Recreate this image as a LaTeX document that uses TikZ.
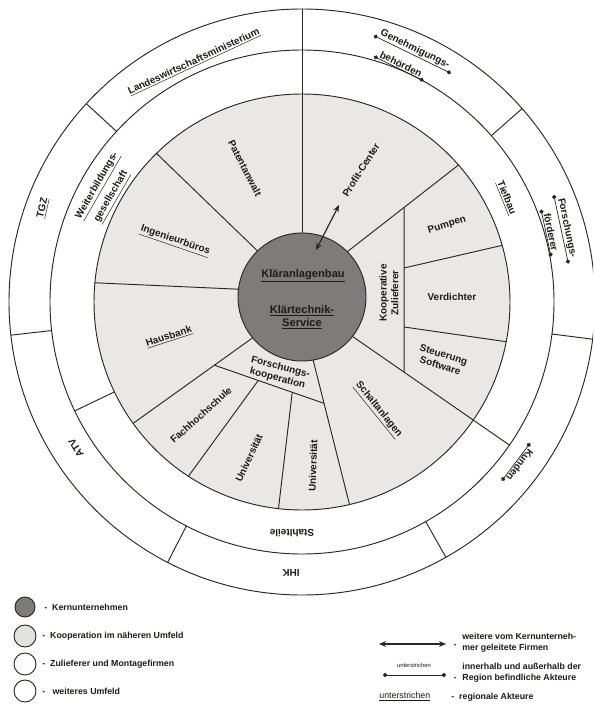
\documentclass[tikz,border=0pt]{standalone}
\usepackage{fontspec}
\setmainfont{Liberation Sans}
\usetikzlibrary{arrows.meta,calc}
\definecolor{linec}{HTML}{2B2620}
\definecolor{txtc}{HTML}{1E1B18}
\definecolor{darkg}{HTML}{7E7C7A}
\definecolor{lightg}{HTML}{E9E8E4}
\definecolor{legl}{HTML}{E2E2E0}
\tikzset{
  ln/.style={line width=0.8pt, draw=linec},
  lab/.style={font=\bfseries\fontsize{8.5}{10}\selectfont, text=txtc, inner sep=1pt, align=center},
  cen/.style={font=\bfseries\fontsize{9.5}{11}\selectfont, text=txtc, inner sep=1pt, align=center},
  leg/.style={font=\bfseries\fontsize{7.5}{9}\selectfont, text=txtc, inner sep=1pt},
  dotul/.style={line width=0.6pt, draw=linec, {Circle[length=3.6pt]}-{Circle[length=3.6pt]}, shorten <=-3pt, shorten >=-3pt},
  dbl/.style={line width=1pt, draw=linec, {Stealth[length=6pt,width=5pt]}-{Stealth[length=6pt,width=5pt]}},
}
\begin{document}
\begin{tikzpicture}[x=0.03cm,y=0.03cm]
\useasboundingbox (0,0) rectangle (593,-707);
\fill[white] (0,0) rectangle (593,-707);
\begin{scope}
\clip (0,0) rectangle (593,-707);
\coordinate (C) at (302,-302);
\coordinate (D) at (302,-297);
% rings
\draw[ln, fill=white] (C) circle (293);
\draw[ln] (C) circle (252);
\draw[ln, fill=lightg] (C) circle (208);
% spokes of the inner ring
\coordinate (s2a) at ($(D)+(134:64)$);   \coordinate (s2b) at ($(C)+(134.4:208)$);
\coordinate (s3a) at ($(D)+(173:64)$);   \coordinate (s3b) at ($(C)+(174.7:208)$);
\coordinate (s4a) at ($(D)+(219.6:64)$); \coordinate (s4b) at ($(C)+(215.7:208)$);
\coordinate (s6a) at ($(D)+(-80:64)$);   \coordinate (s6b) at ($(C)+(-76.8:208)$);
\coordinate (s7a) at ($(D)+(-38:64)$);   \coordinate (s7b) at ($(C)+(-34.6:252)$);
\coordinate (s8a) at ($(D)+(45:64)$);    \coordinate (s8b) at ($(C)+(41.2:208)$);
\coordinate (ch1) at ($(s4a)!0.32!(s4b)$);
\coordinate (ch2) at ($(s6a)!0.30!(s6b)$);
\coordinate (v1) at (404,0);
\coordinate (v2) at (404,-700);
\coordinate (kt) at (intersection of v1--v2 and s8a--s8b);
\coordinate (kb) at (intersection of v1--v2 and s7a--s7b);
\draw[ln] ($(D)+(90:64)$) -- ($(C)+(90:293)$);
\draw[ln] (s2a) -- (s2b);
\draw[ln] (s3a) -- (s3b);
\draw[ln] (s4a) -- (s4b);
\draw[ln] (s6a) -- (s6b);
\draw[ln] (s7a) -- (s7b);
\draw[ln] (s8a) -- (s8b);
\draw[ln] (ch1) -- (ch2);
\draw[ln] ($(ch1)!0.40!(ch2)$) -- ($(C)+(236.9:208)$);
\draw[ln] ($(ch1)!0.71!(ch2)$) -- ($(C)+(263.5:208)$);
\draw[ln] (kt) -- (kb);
\draw[ln] (404,-268) -- ($(C)+(15.8:208)$);
\draw[ln] (404,-327) -- ($(C)+(-11:208)$);
% middle ring separator
\draw[ln] ($(C)+(205.6:208)$) -- ($(C)+(205.6:252)$);
% outer ring separators
\foreach \a in {41.3,137.4,186.5,242.7,299.4,352.7}
  \draw[ln] ($(C)+(\a:252)$) -- ($(C)+(\a:293)$);
% core
\draw[ln, fill=darkg] (D) circle (64);
\end{scope}

% centre texts
\node[cen] (kb1) at (303,-276) {\underline{Kläranlagenbau}};
\node[cen] (kb2) at (302,-317) {\underline{Klärtechnik-}\\\underline{Service}};

% inner ring labels
\node[lab, rotate=-63] (pat) at (245,-168) {Patentanwalt};
\node[lab, rotate=58] (pc) at (361,-170) {Profit-Center};
\node[lab, rotate=-19] (ing) at (175,-241) {\underline{Ingenieurbüros}};
\node[lab, rotate=18] (hb) at (169,-337) {\underline{Hausbank}};
\node[lab, rotate=42] (fh) at (201,-415) {Fachhochschule};
\node[lab, rotate=65] (u1) at (249,-458) {Universität};
\node[lab, rotate=88] (u2) at (313,-466) {Universität};
\node[lab, rotate=-15] (fk) at (279,-373) {Forschungs-\\kooperation};
\node[lab, rotate=-51] (sa) at (378,-410) {\underline{Schaltanlagen}};
\node[lab, rotate=-17] (st) at (442,-360) {Steuerung\\Software};
\node[lab] (vd) at (452,-297) {Verdichter};
\node[lab, rotate=17] (pu) at (447,-225) {Pumpen};
\node[lab, rotate=90] (kz) at (389,-293) {Kooperative\\Zulieferer};

% arrow core -> profit centre
\coordinate (arA) at (316,-250);
\coordinate (arB) at (339,-205);
\draw[dbl] (arA) -- (arB);

% middle ring labels
\node[lab, rotate=60] (wb1) at (98,-186) {\underline{Weiterbildungs-}};
\node[lab, rotate=60] (wb2) at (112,-197) {\underline{gesellschaft}};
\node[lab, rotate=-68] (tb) at (506,-198) {\underline{Tiefbau}};
\node[lab, rotate=180] (sl) at (292,-533) {Stahlteile};

% outer ring labels
\node[lab, rotate=25] (lwm) at (194,-62) {\underline{Landeswirtschaftsministerium}};
\node[lab, rotate=-26] (gb1) at (415,-49) {Genehmigungs-};
\node[lab, rotate=-26] (gb2) at (401,-64) {behörden};
\draw[dotul] (gb1.south west) -- (gb1.south east);
\draw[dotul] (gb2.south west) -- (gb2.south east);
\node[lab, rotate=-78] (ff1) at (567,-228) {Forschungs-};
\node[lab, rotate=-78] (ff2) at (551,-232) {förderer};
\draw[dotul] (ff1.south west) -- (ff1.south east);
\draw[dotul] (ff2.south west) -- (ff2.south east);
\node[lab, rotate=-127] (ku) at (520,-465) {Kunden};
\draw[dotul] (ku.south west) -- (ku.south east);
\node[lab, rotate=77] (tgz) at (43,-208) {\underline{TGZ}};
\node[lab, rotate=123] (atv) at (76,-448) {ATV};
\node[lab, rotate=180] (ihk) at (291,-573) {IHK};

% legend left
\draw[ln, fill=darkg] (25,-607) circle (10);
\draw[ln, fill=legl] (25,-636) circle (11);
\draw[ln, fill=white] (25,-664) circle (11);
\draw[ln, fill=white] (25,-691) circle (11);
\node[leg, anchor=west] (le1) at (43,-607) {-\ \ Kernunternehmen};
\node[leg, anchor=west] (le2) at (41,-636) {-\ \ Kooperation im näheren Umfeld};
\node[leg, anchor=west] (le3) at (41,-664) {-\ \ Zulieferer und Montagefirmen};
\node[leg, anchor=west] (le4) at (41,-691) {-\ \ \ weiteres Umfeld};

% legend right
\coordinate (la1) at (379,-644);
\coordinate (la2) at (446,-644);
\draw[dbl] (la1) -- (la2);
\node[leg] (ld1) at (455,-646) {-};
\node[leg, anchor=west, align=left] (lr1) at (461,-643) {weitere vom Kernunterneh-\\mer geleitete Firmen};
\node[font=\fontsize{5}{6}\selectfont, text=txtc, inner sep=1pt] (lu) at (414,-665) {unterstrichen};
\coordinate (lu1) at (383,-675);
\coordinate (lu2) at (446,-675);
\draw[dotul, shorten <=0pt, shorten >=0pt] (lu1) -- (lu2);
\node[leg] (ld2) at (455,-679) {-};
\node[leg, anchor=west, align=left] (lr2) at (461,-673) {innerhalb und außerhalb der\\Region befindliche Akteure};
\node[font=\fontsize{7.5}{9}\selectfont, text=txtc, inner sep=1pt, anchor=west] (lu3) at (378,-697) {\underline{unterstrichen}};
\node[leg, anchor=west] (lr3) at (450,-697) {-\ \ regionale Akteure};
\end{tikzpicture}
\end{document}
